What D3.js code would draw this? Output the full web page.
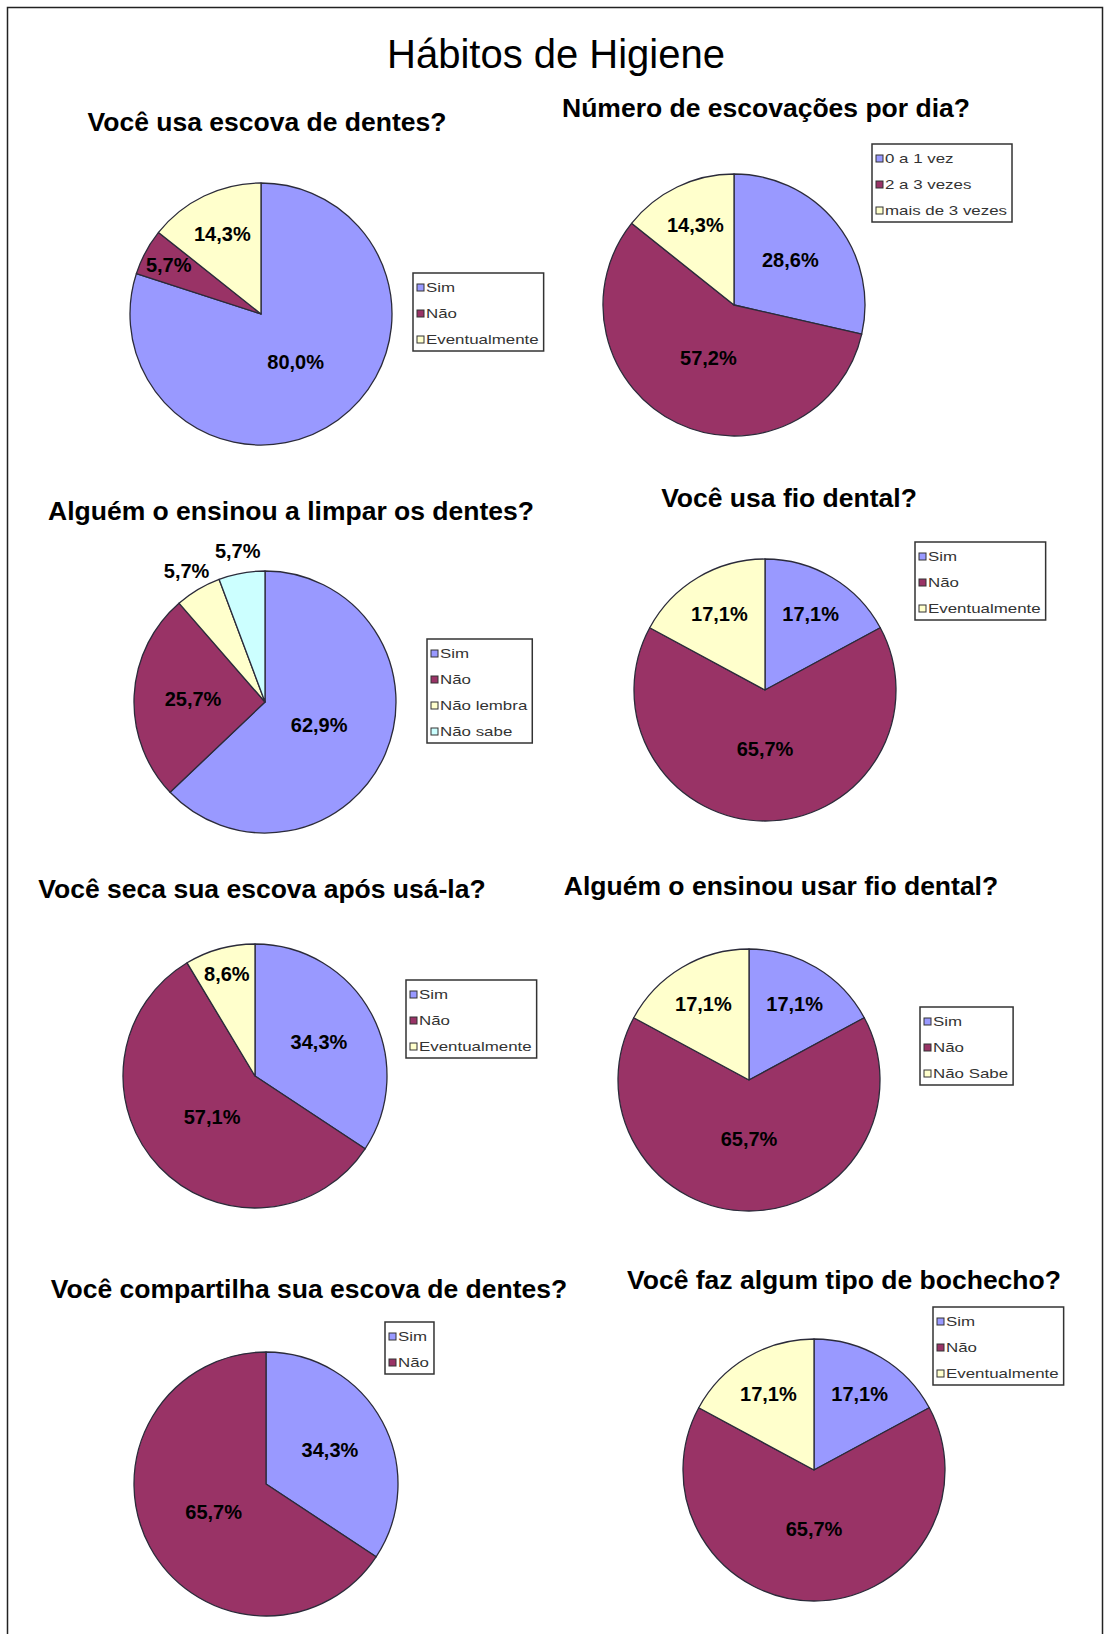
<!DOCTYPE html>
<html>
<head>
<meta charset="utf-8">
<script src="https://cdn.jsdelivr.net/npm/d3@7"></script>
<style>
  body { margin: 0; background: #fff; }
  text { font-family: Arial, "Liberation Sans", sans-serif; }
</style>
</head>
<body>
<div id="chart"></div>
<script>
// titles
var pageTitle = "Hábitos de Higiene";
var questions = [
  "Você usa escova de dentes?",
  "Número de escovações por dia?",
  "Alguém o ensinou a limpar os dentes?",
  "Você usa fio dental?",
  "Você seca sua escova após usá-la?",
  "Alguém o ensinou usar fio dental?",
  "Você compartilha sua escova de dentes?",
  "Você faz algum tipo de bochecho?"
];

// categories (legend entries) per chart
var catEscova     = ["Sim", "Não", "Eventualmente"];
var catEscovacoes = ["0 a 1 vez", "2 a 3 vezes", "mais de 3 vezes"];
var catEnsinou    = ["Sim", "Não", "Não lembra", "Não sabe"];
var catFio        = ["Sim", "Não", "Eventualmente"];
var catSeca       = ["Sim", "Não", "Eventualmente"];
var catEnsinouFio = ["Sim", "Não", "Não Sabe"];
var catCompart    = ["Sim", "Não"];
var catBochecho   = ["Sim", "Não", "Eventualmente"];

// percentages per chart
var valEscova     = [80.0, 5.7, 14.3];
var valEscovacoes = [28.6, 57.2, 14.3];
var valEnsinou    = [62.9, 25.7, 5.7, 5.7];
var valFio        = [17.1, 65.7, 17.1];
var valSeca       = [34.3, 57.1, 8.6];
var valEnsinouFio = [17.1, 65.7, 17.1];
var valCompart    = [34.3, 65.7];
var valBochecho   = [17.1, 65.7, 17.1];

var categories = [catEscova, catEscovacoes, catEnsinou, catFio, catSeca, catEnsinouFio, catCompart, catBochecho];
var values = [valEscova, valEscovacoes, valEnsinou, valFio, valSeca, valEnsinouFio, valCompart, valBochecho];

var palette = ["#9999ff", "#993366", "#ffffcc", "#ccffff"];

// layout of each panel: pie centre / radius, title centre + baseline, legend corner
var layout = [
  {cx: 261, cy: 314,  r: 131, tx: 267, ty: 131,  lx: 413, ly: 273},
  {cx: 734, cy: 305,  r: 131, tx: 766, ty: 117,  lx: 872, ly: 144},
  {cx: 265, cy: 702,  r: 131, tx: 291, ty: 520,  lx: 427, ly: 639},
  {cx: 765, cy: 690,  r: 131, tx: 789, ty: 507,  lx: 915, ly: 542},
  {cx: 255, cy: 1076, r: 132, tx: 262, ty: 898,  lx: 406, ly: 980},
  {cx: 749, cy: 1080, r: 131, tx: 781, ty: 895,  lx: 920, ly: 1007},
  {cx: 266, cy: 1484, r: 132, tx: 309, ty: 1298, lx: 385, ly: 1322},
  {cx: 814, cy: 1470, r: 131, tx: 844, ty: 1289, lx: 933, ly: 1307}
];

var W = 1106, H = 1634;

var svg = d3.select("#chart")
  .append("svg")
    .attr("width", W)
    .attr("height", H);

// page frame (bottom edge runs off the picture)
svg.append("rect")
  .attr("x", 7.5)
  .attr("y", 7.5)
  .attr("width", 1095)
  .attr("height", H + 20)
  .attr("fill", "none")
  .attr("stroke", "#222")
  .attr("stroke-width", 1.5);

svg.append("text")
  .attr("x", 556)
  .attr("y", 68)
  .attr("text-anchor", "middle")
  .style("font-size", "40px")
  .text(pageTitle);

var pie = d3.pie().sort(null).value(function(d) { return d; });

// rough "best fit" placement of the percentage labels
function labelK(p, i, vals) {
  var n = vals.length;
  var small = function(v) { return v / 100 < 0.07; };
  if (small(vals[i]) && (small(vals[(i + 1) % n]) || small(vals[(i - 1 + n) % n]))) return 1.17;
  if (p < 0.1) return 0.8;
  if (p < 0.2) return 0.68;
  if (p < 0.4) return 0.55;
  return 0.45;
}

values.forEach(function(vals, ci) {
  var L = layout[ci];
  var g = svg.append("g");

  g.append("text")
    .attr("x", L.tx)
    .attr("y", L.ty)
    .attr("text-anchor", "middle")
    .style("font-size", "26.5px")
    .style("font-weight", "bold")
    .text(questions[ci]);

  var arcs = pie(vals);
  var arc = d3.arc().innerRadius(0).outerRadius(L.r);

  var pg = g.append("g")
    .attr("transform", "translate(" + L.cx + "," + L.cy + ")");

  pg.selectAll("path")
    .data(arcs)
    .enter()
    .append("path")
    .attr("d", arc)
    .attr("fill", function(d, i) { return palette[i]; })
    .attr("stroke", "#2b2b3a")
    .attr("stroke-width", 1.3)
    .attr("stroke-linejoin", "round");

  pg.selectAll("text")
    .data(arcs)
    .enter()
    .append("text")
    .attr("transform", function(d, i) {
      var k = labelK(d.value / 100, i, vals) * L.r;
      var c = d3.arc().innerRadius(k).outerRadius(k).centroid(d);
      return "translate(" + c[0] + "," + c[1] + ")";
    })
    .attr("dy", "0.36em")
    .attr("text-anchor", "middle")
    .style("font-size", "20px")
    .style("font-weight", "bold")
    .text(function(d) { return d3.format(".1f")(d.value).replace(".", ",") + "%"; });

  // legend
  var cats = categories[ci];
  var lg = g.append("g")
    .attr("transform", "translate(" + L.lx + "," + L.ly + ")");

  var box = lg.append("rect")
    .attr("fill", "#fff")
    .attr("stroke", "#333")
    .attr("stroke-width", 1.5);

  var items = lg.selectAll("g.item")
    .data(cats)
    .enter()
    .append("g")
    .attr("class", "item")
    .attr("transform", function(d, i) { return "translate(0," + (14.5 + i * 26) + ")"; });

  items.append("rect")
    .attr("x", 4)
    .attr("y", -3.5)
    .attr("width", 7)
    .attr("height", 7)
    .attr("fill", function(d, i) { return palette[i]; })
    .attr("stroke", "#333")
    .attr("stroke-width", 1);

  var labels = items.append("text")
    .attr("transform", "translate(13,0) scale(1.3,1)")
    .attr("dy", "0.36em")
    .style("font-size", "13px")
    .attr("fill", "#333")
    .text(function(d) { return d; });

  var maxW = 0;
  labels.each(function() { maxW = Math.max(maxW, this.getComputedTextLength() * 1.3); });

  box.attr("width", 13 + maxW + 5)
    .attr("height", 14.5 + (cats.length - 1) * 26 + 11.5);
});
</script>
</body>
</html>
